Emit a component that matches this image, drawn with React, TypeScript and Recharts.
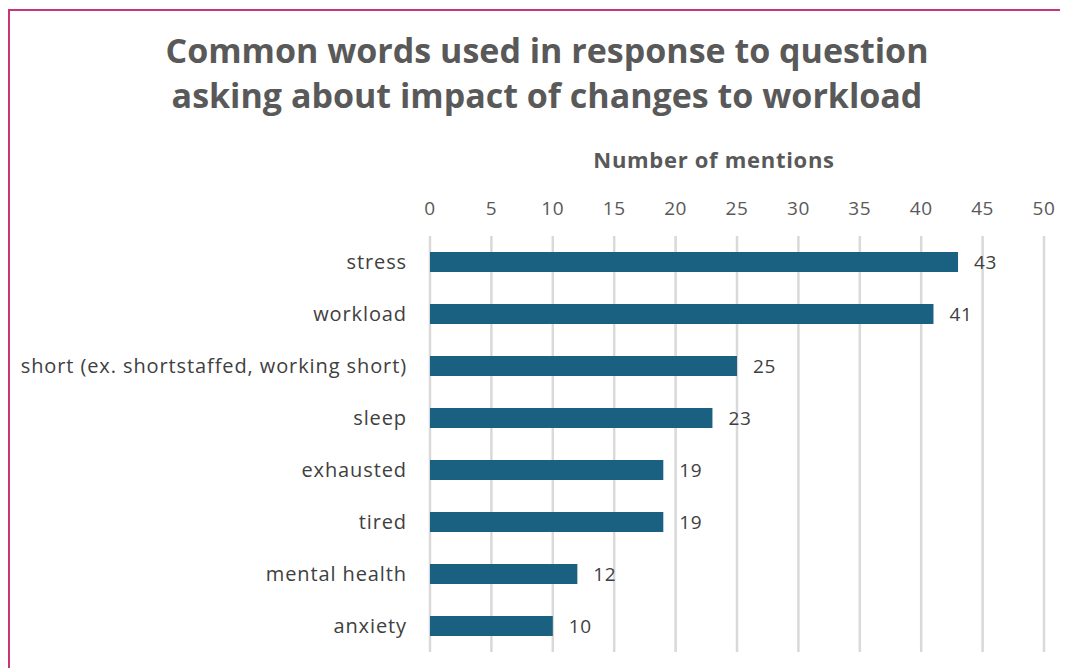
import { BarChart, Bar, XAxis, YAxis, CartesianGrid, LabelList } from 'recharts'

const words = [
  'stress',
  'workload',
  'short (ex. shortstaffed, working short)',
  'sleep',
  'exhausted',
  'tired',
  'mental health',
  'anxiety',
]
const mentions = [43, 41, 25, 23, 19, 19, 12, 10]
const xTicks = [0, 5, 10, 15, 20, 25, 30, 35, 40, 45, 50]

const data = words.map((word, i) => ({ word, count: mentions[i] }))

const FONT = '"Open Sans", sans-serif'
const BAR = '#1A6080'

function App() {
  return (
    <div style={{ position: 'relative', width: 1060, height: 660, fontFamily: FONT }}>
      {/* frame: only top and left edges show in the crop */}
      <div
        style={{
          position: 'absolute',
          left: 0,
          top: 1,
          width: 1060,
          height: 660,
          borderTop: '2px solid #C8357A',
          borderLeft: '2px solid #C8357A',
          boxSizing: 'border-box',
        }}
      />
      <div
        style={{
          position: 'absolute',
          left: 39,
          top: 20,
          width: 1000,
          textAlign: 'center',
          color: '#595959',
          fontWeight: 700,
          fontSize: 34,
          lineHeight: '45px',
        }}
      >
        Common words used in response to question
        <br />
        asking about impact of changes to workload
      </div>
      <div
        style={{
          position: 'absolute',
          left: 506,
          top: 136,
          width: 400,
          textAlign: 'center',
          color: '#595959',
          fontWeight: 700,
          fontSize: 22,
          letterSpacing: 0.7,
        }}
      >
        Number of mentions
      </div>
      <div style={{ position: 'absolute', left: 0, top: 0 }}>
        <BarChart
          width={1060}
          height={660}
          data={data}
          layout="vertical"
          margin={{ top: 0, right: 24, bottom: 16, left: 22 }}
          barCategoryGap={0}
        >
          <CartesianGrid horizontal={false} stroke="#D9D9D9" strokeWidth={2.5} />
          <XAxis
            type="number"
            orientation="top"
            domain={[0, 50]}
            ticks={xTicks}
            axisLine={false}
            tickLine={false}
            tickSize={0}
            tickMargin={21}
            height={228}
            interval={0}
            tick={{ fill: '#595959', fontSize: 19, fontFamily: FONT, letterSpacing: 0.6 }}
          />
          <YAxis
            type="category"
            dataKey="word"
            width={400}
            axisLine={false}
            tickLine={false}
            tickSize={0}
            tickMargin={23}
            interval={0}
            tick={{ fill: '#404040', fontSize: 20, fontFamily: FONT, letterSpacing: 0.9 }}
          />
          <Bar dataKey="count" fill={BAR} barSize={20} isAnimationActive={false}>
            <LabelList
              dataKey="count"
              position="right"
              offset={16}
              fill="#404040"
              fontSize={19}
              fontFamily={FONT}
              letterSpacing={0.6}
            />
          </Bar>
        </BarChart>
      </div>
    </div>
  )
}

export default App
